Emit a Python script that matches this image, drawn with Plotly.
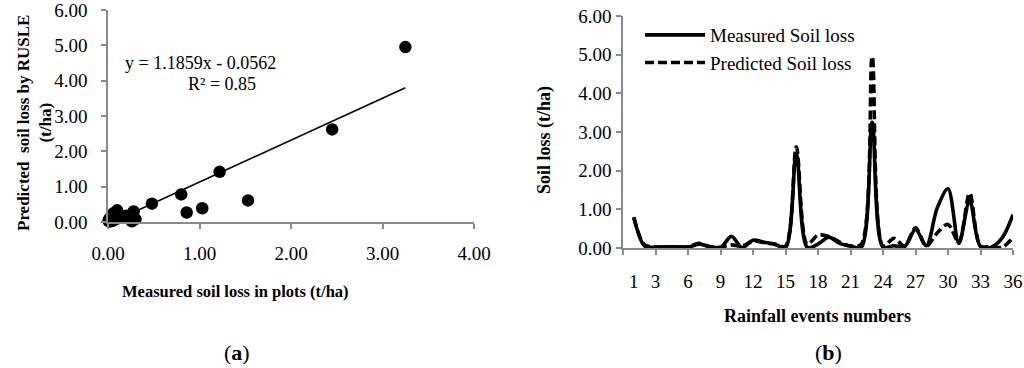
import numpy as np
import plotly.graph_objects as go

# ---------------- data ----------------
events = list(range(1, 37))
measured = [0.80, 0.05, 0.02, 0.03, 0.03, 0.02, 0.10, 0.04, 0.01, 0.30,
            0.01, 0.20, 0.15, 0.10, 0.01, 2.45, 0.02, 0.10, 0.28, 0.12,
            0.05, 0.02, 3.25, 0.02, 0.06, 0.04, 0.48, 0.06, 1.03, 1.53,
            0.12, 1.22, 0.04, 0.02, 0.26, 0.86]
predicted = [0.78, 0.08, 0.03, 0.02, 0.03, 0.03, 0.12, 0.03, 0.02, 0.08,
             0.05, 0.18, 0.14, 0.10, 0.05, 2.62, 0.10, 0.33, 0.30, 0.15,
             0.05, 0.10, 4.95, 0.05, 0.25, 0.05, 0.52, 0.05, 0.39, 0.61,
             0.15, 1.42, 0.05, 0.04, 0.02, 0.27]
slope, intercept, r2 = 1.1859, -0.0562, 0.85

y_ticks = [0, 1, 2, 3, 4, 5, 6]
a_x_ticks = [0, 1, 2, 3, 4]
b_tick_marks = list(range(0, 37, 3))
b_tick_labels = [1, 3, 6, 9, 12, 15, 18, 21, 24, 27, 30, 33, 36]

# ---------------- layout helpers ----------------
W, H = 1024, 368
def fx(p):
    return p / W
def fy(p):
    return 1 - p / H

FONT = "Liberation Serif"
AX = "#8a8a8a"
TICKFONT = dict(family=FONT, size=19, color="black")

fig = go.Figure()

# panel (a): scatter + trendline
fig.add_trace(go.Scatter(x=measured, y=predicted, mode="markers",
                         marker=dict(size=12.5, color="black"),
                         cliponaxis=False, showlegend=False,
                         xaxis="x", yaxis="y"))
tx = np.array([0.0, max(measured)])
fig.add_trace(go.Scatter(x=tx, y=slope * tx + intercept, mode="lines",
                         line=dict(color="black", width=1.6),
                         showlegend=False, xaxis="x", yaxis="y"))

# panel (b): lines
fig.add_trace(go.Scatter(x=events, y=measured, mode="lines",
                         name="Measured Soil loss",
                         line=dict(color="black", width=3.6, shape="spline", smoothing=0.9),
                         xaxis="x2", yaxis="y2"))
fig.add_trace(go.Scatter(x=events, y=predicted, mode="lines",
                         name="Predicted Soil loss",
                         line=dict(color="black", width=3.6, dash="9px,4px",
                                   shape="spline", smoothing=0.9),
                         xaxis="x2", yaxis="y2"))
# ghost trace to carry the label axis of panel (b)
fig.add_trace(go.Scatter(x=events, y=measured, mode="lines", opacity=0,
                         hoverinfo="skip", showlegend=False,
                         xaxis="x3", yaxis="y2"))

axis_common = dict(showline=True, linecolor=AX, linewidth=1.5, ticks="outside",
                   ticklen=5, tickcolor=AX, tickwidth=1.5, showgrid=False,
                   zeroline=False, automargin=False, tickfont=TICKFONT,
                   ticklabeloverflow="allow")

fig.update_layout(
    width=W, height=H,
    margin=dict(l=0, r=0, t=0, b=0),
    paper_bgcolor="white", plot_bgcolor="white",
    font=dict(family=FONT, color="black"),
    xaxis=dict(domain=[fx(108), fx(474)], range=[0, 4], tickvals=a_x_ticks,
               tickformat=".2f", anchor="y", ticklabelstandoff=8, **axis_common),
    yaxis=dict(domain=[fy(222), fy(10)], range=[0, 6], tickvals=y_ticks,
               tickformat=".2f", anchor="x", ticklabelstandoff=10, **axis_common),
    xaxis2=dict(domain=[fx(623), fx(1013)], range=[0, 36], tickvals=b_tick_marks,
                showticklabels=False, anchor="y2", **axis_common),
    xaxis3=dict(overlaying="x2", anchor="y2", side="bottom", range=[0, 36],
                tickvals=b_tick_labels, showline=False, ticks="", showgrid=False,
                zeroline=False, automargin=False, ticklabelstandoff=20,
                ticklabeloverflow="allow", tickfont=TICKFONT),
    yaxis2=dict(domain=[fy(248), fy(16)], range=[0, 6], tickvals=y_ticks,
                tickformat=".2f", anchor="x2", ticklabelstandoff=1, **axis_common),
    legend=dict(x=fx(640), y=fy(16), xanchor="left", yanchor="top",
                bgcolor="rgba(0,0,0,0)", itemwidth=60,
                font=dict(family=FONT, size=19, color="black"),
                tracegroupgap=0),
    showlegend=True,
)

def note(x, y, text, size, angle=0):
    return dict(x=fx(x), y=fy(y), xref="paper", yref="paper", text=text,
                showarrow=False, textangle=angle, xanchor="center", yanchor="middle",
                font=dict(family=FONT, size=size, color="black"))

ann = [
    note(200, 63, f"y = {slope}x - {abs(intercept)}", 18),
    note(222, 84, f"R² = {r2}", 18),
    note(235, 291, "<b>Measured soil loss in plots (t/ha)</b>", 16.5),
    note(34, 123, "<b>Predicted  soil loss by RUSLE<br>(t/ha)</b>", 17, -90),
    note(817, 316, "<b>Rainfall events numbers</b>", 18),
    note(544, 140, "<b>Soil loss (t/ha)</b>", 18, -90),
    note(237, 352, "(<b>a</b>)", 22),
    note(828, 352, "(<b>b</b>)", 22),
]
fig.update_layout(annotations=ann)

fig.write_html("out.html", config={"displayModeBar": False},
               post_script="document.body.style.margin='0px';")
